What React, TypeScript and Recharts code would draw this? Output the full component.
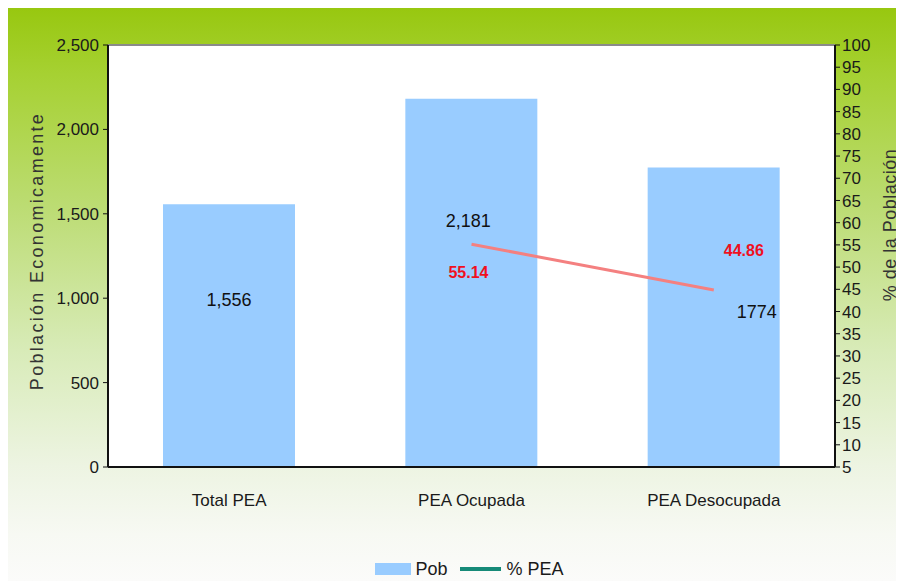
import { ComposedChart, Bar, Line, XAxis, YAxis, Legend, LabelList, CartesianGrid, ReferenceLine } from 'recharts';

const categories = ['Total PEA', 'PEA Ocupada', 'PEA Desocupada'];
const pob = [1556, 2181, 1774];
const pobLabels = ['1,556', '2,181', '1774'];
const pctPea = [null, 55.14, 44.86];
const pctLabels = ['', '55.14', '44.86'];
const leftTicks = [0, 500, 1000, 1500, 2000, 2500];
const rightTicks = [5, 10, 15, 20, 25, 30, 35, 40, 45, 50, 55, 60, 65, 70, 75, 80, 85, 90, 95, 100];

const data = categories.map((name, i) => ({ name, pob: pob[i], pct: pctPea[i] }));

// label nudges (relative to bar top centre / line point)
const barLabelOffset = [
  { dx: 0, dy: 96 },
  { dx: -3, dy: 122 },
  { dx: 43, dy: 144 },
];
const lineLabelOffset = [
  { dx: 0, dy: 0 },
  { dx: -3, dy: 28 },
  { dx: 30, dy: -39 },
];

const FONT = '"Liberation Sans", Arial, sans-serif';
const tickStyle = { fill: '#1a1a1a', fontSize: 17, fontFamily: FONT };

function BarValueLabel(props: any) {
  const { x, y, width, index } = props;
  const o = barLabelOffset[index];
  return (
    <text x={x + width / 2 + o.dx} y={y + o.dy} textAnchor="middle" dominantBaseline="central"
      fill="#111" fontSize={18} fontFamily={FONT}>
      {pobLabels[index]}
    </text>
  );
}

function LineValueLabel(props: any) {
  const { x, y, index } = props;
  if (!pctLabels[index]) return null;
  const o = lineLabelOffset[index];
  return (
    <text x={x + o.dx} y={y + o.dy} textAnchor="middle" dominantBaseline="central"
      fill="#f0101e" fontSize={16} fontWeight="bold" fontFamily={FONT}>
      {pctLabels[index]}
    </text>
  );
}

function LegendContent() {
  return (
    <div style={{ display: 'flex', justifyContent: 'center', alignItems: 'center', fontFamily: FONT, fontSize: 18, color: '#1a1a1a', height: 24, marginLeft: 36 }}>
      <span style={{ display: 'inline-block', width: 36, height: 12, background: '#99ccff', marginRight: 4 }} />
      <span style={{ marginRight: 12 }}>Pob</span>
      <span style={{ display: 'inline-block', width: 41, height: 4, background: '#168a78', marginRight: 6 }} />
      <span>% PEA</span>
    </div>
  );
}

export default function App() {
  return (
    <div style={{
      width: 892, height: 576, marginTop: -3, position: 'relative',
      background: 'linear-gradient(to bottom, #97c70e 0%, #a6d132 12%, #bcdc73 35%, #d8ebb8 60%, #edf4e2 80%, #f7f9f3 92%, #fbfbfa 100%)',
    }}>
      <ComposedChart width={892} height={576} data={data} margin={{ top: 40, right: 5, left: 0, bottom: 0 }}
        barCategoryGap="22%" style={{ overflow: 'visible' }}>
        <CartesianGrid fill="#ffffff" horizontal={false} vertical={false} yAxisId="left" />
        <XAxis dataKey="name" xAxisId={0} height={90} tickLine={false} tickSize={0} tickMargin={27}
          axisLine={{ stroke: '#111', strokeWidth: 2 }} tick={tickStyle} />
        <YAxis yAxisId="left" orientation="left" width={100} domain={[0, 2500]} ticks={leftTicks} interval={0}
          tickFormatter={(v: number) => v.toLocaleString('en-US')} tickSize={5} tickMargin={4}
          axisLine={{ stroke: '#111', strokeWidth: 2 }} tickLine={{ stroke: '#111' }} tick={tickStyle}
          label={({ viewBox }: any) => (
            <text x={viewBox.x + 29} y={viewBox.y + viewBox.height / 2 - 5} transform={`rotate(-90, ${viewBox.x + 29}, ${viewBox.y + viewBox.height / 2 - 5})`}
              textAnchor="middle" dominantBaseline="central" fill="#333" fontSize={18} letterSpacing={2.3} fontFamily={FONT}>
              Población Economicamente
            </text>
          )} />
        <YAxis yAxisId="right" orientation="right" width={60} domain={[5, 100]} ticks={rightTicks} interval={0}
          tickSize={5} tickMargin={2}
          axisLine={{ stroke: '#111', strokeWidth: 2 }} tickLine={{ stroke: '#111' }} tick={tickStyle}
          label={({ viewBox }: any) => (
            <text x={viewBox.x + 55} y={viewBox.y + viewBox.height / 2 - 31} transform={`rotate(-90, ${viewBox.x + 55}, ${viewBox.y + viewBox.height / 2 - 31})`}
              textAnchor="middle" dominantBaseline="central" fill="#333" fontSize={18} letterSpacing={0.5} fontFamily={FONT}>
              % de la Población
            </text>
          )} />
        <ReferenceLine yAxisId="left" y={2500} stroke="#8a8a8a" strokeWidth={2} />
        <Bar yAxisId="left" dataKey="pob" name="Pob" fill="#99ccff" barSize={132} isAnimationActive={false}>
          <LabelList dataKey="pob" content={<BarValueLabel />} />
        </Bar>
        <Line yAxisId="right" dataKey="pct" name="% PEA" stroke="#f48080" strokeWidth={3} dot={false}
          activeDot={false} isAnimationActive={false}>
          <LabelList dataKey="pct" content={<LineValueLabel />} />
        </Line>
        <Legend verticalAlign="bottom" height={24} content={<LegendContent />} />
      </ComposedChart>
    </div>
  );
}
